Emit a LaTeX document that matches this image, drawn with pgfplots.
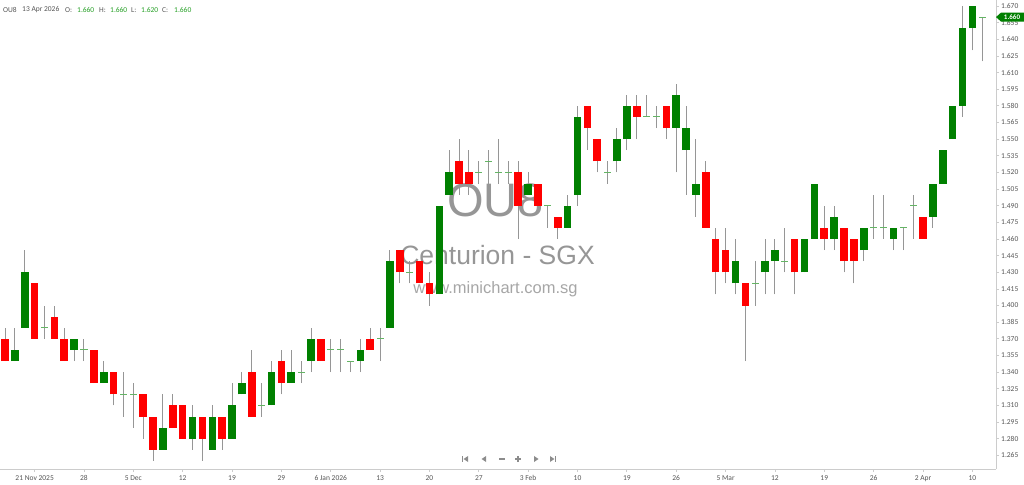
\documentclass[border=0pt]{standalone}
\usepackage{pgfplots}
\pgfplotsset{compat=1.18}
\usepackage{pgfplotstable}
\usepackage{fontspec}
\setmainfont{Carlito}
\newfontfamily\wmfont{Liberation Sans}

\definecolor{candlered}{RGB}{255,0,0}
\definecolor{candlegreen}{RGB}{0,128,0}
\definecolor{dojigreen}{RGB}{100,180,100}
\definecolor{wick}{RGB}{150,150,150}
\definecolor{txtgray}{RGB}{85,85,85}
\definecolor{valgreen}{RGB}{40,160,40}
\definecolor{axisgray}{RGB}{204,204,204}
\definecolor{wmgray}{RGB}{150,150,150}
\definecolor{navgray}{RGB}{140,140,140}

% OU8 daily candles, 17 Nov 2025 .. 13 Apr 2026 (i = trading day)
\pgfplotstableread{
i  o    h    l    c
0  1.37 1.38 1.35 1.35
1  1.35 1.38 1.35 1.36
2  1.38 1.45 1.38 1.43
3  1.42 1.42 1.37 1.37
4  1.38 1.40 1.37 1.38
5  1.39 1.40 1.37 1.37
6  1.37 1.38 1.35 1.35
7  1.36 1.37 1.35 1.37
8  1.36 1.37 1.35 1.36
9  1.36 1.36 1.33 1.33
10 1.33 1.35 1.33 1.34
11 1.34 1.34 1.31 1.32
12 1.32 1.34 1.30 1.32
13 1.32 1.33 1.29 1.32
14 1.32 1.32 1.28 1.30
15 1.30 1.30 1.26 1.27
16 1.27 1.32 1.27 1.29
17 1.31 1.32 1.29 1.29
18 1.31 1.31 1.28 1.28
19 1.28 1.31 1.27 1.30
20 1.30 1.30 1.26 1.28
21 1.27 1.31 1.27 1.30
22 1.30 1.30 1.27 1.28
23 1.28 1.33 1.28 1.31
24 1.32 1.34 1.32 1.33
25 1.34 1.36 1.30 1.30
26 1.31 1.33 1.30 1.31
27 1.31 1.35 1.31 1.34
28 1.35 1.36 1.32 1.33
29 1.33 1.36 1.33 1.34
30 1.34 1.35 1.33 1.34
31 1.35 1.38 1.34 1.37
32 1.37 1.37 1.35 1.35
33 1.36 1.37 1.34 1.36
34 1.36 1.37 1.34 1.36
35 1.35 1.35 1.34 1.35
36 1.35 1.37 1.34 1.36
37 1.37 1.38 1.36 1.36
38 1.37 1.38 1.35 1.37
39 1.38 1.45 1.38 1.44
40 1.45 1.45 1.42 1.43
41 1.43 1.44 1.42 1.43
42 1.44 1.44 1.42 1.42
43 1.42 1.43 1.40 1.41
44 1.41 1.49 1.41 1.49
45 1.50 1.54 1.50 1.52
46 1.53 1.55 1.50 1.51
47 1.52 1.54 1.50 1.51
48 1.52 1.53 1.51 1.52
49 1.53 1.54 1.51 1.53
50 1.52 1.55 1.51 1.52
51 1.52 1.53 1.51 1.52
52 1.52 1.53 1.46 1.49
53 1.50 1.52 1.50 1.51
54 1.51 1.51 1.49 1.49
55 1.49 1.49 1.47 1.49
56 1.48 1.48 1.46 1.47
57 1.47 1.50 1.47 1.49
58 1.50 1.58 1.49 1.57
59 1.58 1.58 1.54 1.56
60 1.55 1.55 1.52 1.53
61 1.52 1.53 1.51 1.52
62 1.53 1.56 1.52 1.55
63 1.55 1.59 1.54 1.58
64 1.58 1.59 1.55 1.57
65 1.57 1.59 1.57 1.57
66 1.57 1.58 1.56 1.57
67 1.58 1.58 1.55 1.56
68 1.56 1.60 1.52 1.59
69 1.54 1.58 1.50 1.56
70 1.50 1.55 1.48 1.51
71 1.52 1.53 1.47 1.47
72 1.46 1.47 1.41 1.43
73 1.45 1.47 1.42 1.43
74 1.42 1.46 1.41 1.44
75 1.42 1.42 1.35 1.40
76 1.42 1.44 1.40 1.42
77 1.43 1.46 1.41 1.44
78 1.44 1.46 1.41 1.45
79 1.44 1.47 1.43 1.44
80 1.46 1.46 1.41 1.43
81 1.43 1.46 1.43 1.46
82 1.46 1.51 1.46 1.51
83 1.47 1.49 1.45 1.46
84 1.46 1.49 1.45 1.48
85 1.47 1.47 1.43 1.44
86 1.46 1.46 1.42 1.44
87 1.45 1.47 1.44 1.47
88 1.47 1.50 1.46 1.47
89 1.47 1.50 1.46 1.47
90 1.46 1.47 1.45 1.47
91 1.47 1.47 1.45 1.47
92 1.49 1.50 1.46 1.49
93 1.48 1.48 1.46 1.46
94 1.48 1.51 1.47 1.51
95 1.51 1.54 1.51 1.54
96 1.55 1.58 1.55 1.58
97 1.58 1.67 1.57 1.65
98 1.65 1.67 1.63 1.67
99 1.66 1.66 1.62 1.66
}\ohlc

\begin{document}
\begin{tikzpicture}[x=1pt,y=1pt]
% watermark behind the candles
\node[anchor=base, inner sep=0pt, font=\wmfont\fontsize{47}{47}\selectfont, text=wmgray] at (495.5,252) {OU8};
\node[anchor=base, inner sep=0pt, font=\wmfont\fontsize{26.5}{26.5}\selectfont, text=wmgray] at (497.5,204) {Centurion - SGX};
\node[anchor=base, inner sep=0pt, font=\wmfont\fontsize{16.5}{16.5}\selectfont, text=wmgray!85] at (495.5,175) {www.minichart.com.sg};

\begin{axis}[
  at={(0,0)}, anchor=south west,
  width=996pt, height=469pt, scale only axis,
  xmin=-0.51, xmax=100.4,
  ymin=1.2527, ymax=1.6754,
  axis x line*=bottom, axis y line*=right,
  axis line style={draw=axisgray, line width=0.8pt},
  tick align=outside, major tick length=3pt,
  tick style={draw=axisgray, line width=0.8pt},
  xtick={3,8,...,98},
  xticklabels={21 Nov 2025,28,5 Dec,12,19,29,6 Jan 2026,13,20,27,3 Feb,10,19,26,5 Mar,12,19,26,2 Apr,10},
  ytick={1.265,1.28,1.295,1.31,1.325,1.34,1.355,1.37,1.385,1.4,1.415,1.43,1.445,1.46,1.475,1.49,1.505,1.52,1.535,1.55,1.565,1.58,1.595,1.61,1.625,1.64,1.655,1.67},
  scaled y ticks=false,
  /pgf/number format/assume math mode=true,
  yticklabel style={/pgf/number format/fixed, /pgf/number format/precision=3, /pgf/number format/fixed zerofill, anchor=west, inner sep=0pt, xshift=2pt},
  xticklabel style={inner sep=0pt, yshift=-3pt},
  ticklabel style={font=\fontsize{7.5}{8}\selectfont, text=txtgray},
]
% wicks
\addplot[draw=none, mark=none, forget plot,
  error bars/.cd, y dir=plus, y explicit, error mark=none,
  error bar style={draw=wick, line width=1pt}]
  table[x=i, y=l, y error plus expr=\thisrow{h}-\thisrow{l}] {\ohlc};
% falling bodies
\addplot[draw=none, mark=none, forget plot,
  error bars/.cd, y dir=plus, y explicit, error mark=none,
  error bar style={draw=candlered, line width=7.6pt}]
  table[x=i, y expr={\thisrow{c}<\thisrow{o} ? \thisrow{c} : nan},
        y error plus expr=\thisrow{o}-\thisrow{c}] {\ohlc};
% rising bodies
\addplot[draw=none, mark=none, forget plot,
  error bars/.cd, y dir=plus, y explicit, error mark=none,
  error bar style={draw=candlegreen, line width=7.6pt}]
  table[x=i, y expr={\thisrow{c}>\thisrow{o} ? \thisrow{o} : nan},
        y error plus expr=\thisrow{c}-\thisrow{o}] {\ohlc};
% unchanged days
\addplot[draw=none, mark=none, forget plot,
  error bars/.cd, x dir=both, x fixed=0.36, error mark=none,
  error bar style={draw=dojigreen, line width=1pt}]
  table[x=i, y expr={abs(\thisrow{c}-\thisrow{o})<0.001 ? \thisrow{c} : nan}] {\ohlc};
\coordinate (last) at (axis cs:100.4,1.66);
\end{axis}

% last price tag
\fill[candlegreen] (last) -- ++(5,4.5) -- ++(23,0) -- ++(0,-9) -- ++(-23,0) -- cycle;
\node[text=white, inner sep=0pt, font=\fontsize{7}{7}\selectfont\bfseries] at ([xshift=16pt]last) {1.660};

% header
\begin{scope}[every node/.style={anchor=west, inner sep=0pt, font=\fontsize{7.5}{8}\selectfont}]
\node[text=txtgray] at (3,459) {OU8};
\node[text=txtgray] at (22,459) {13 Apr 2026};
\node[text=txtgray] at (65,459) {O:};
\node[text=valgreen] at (77,459) {1.660};
\node[text=txtgray] at (99,459) {H:};
\node[text=valgreen] at (110,459) {1.660};
\node[text=txtgray] at (131,459) {L:};
\node[text=valgreen] at (141,459) {1.620};
\node[text=txtgray] at (162,459) {C:};
\node[text=valgreen] at (174,459) {1.660};
\end{scope}

% navigation buttons
\begin{scope}[navgray]
\fill (462,7) rectangle (463.3,13);
\fill (468,7) -- (468,13) -- (463.6,10) -- cycle;
\fill (486,7) -- (486,13) -- (481.5,10) -- cycle;
\draw[line width=1.1pt] (499,10) -- (505,10);
\draw[line width=1.1pt] (515,10) -- (521,10) (518,7) -- (518,13);
\fill (534,7) -- (534,13) -- (538.5,10) -- cycle;
\fill (550,7) -- (550,13) -- (554.4,10) -- cycle;
\fill (554.7,7) rectangle (556,13);
\end{scope}

\pgfresetboundingbox
\useasboundingbox (0,-15) rectangle (1024,469);
\end{tikzpicture}
\end{document}
